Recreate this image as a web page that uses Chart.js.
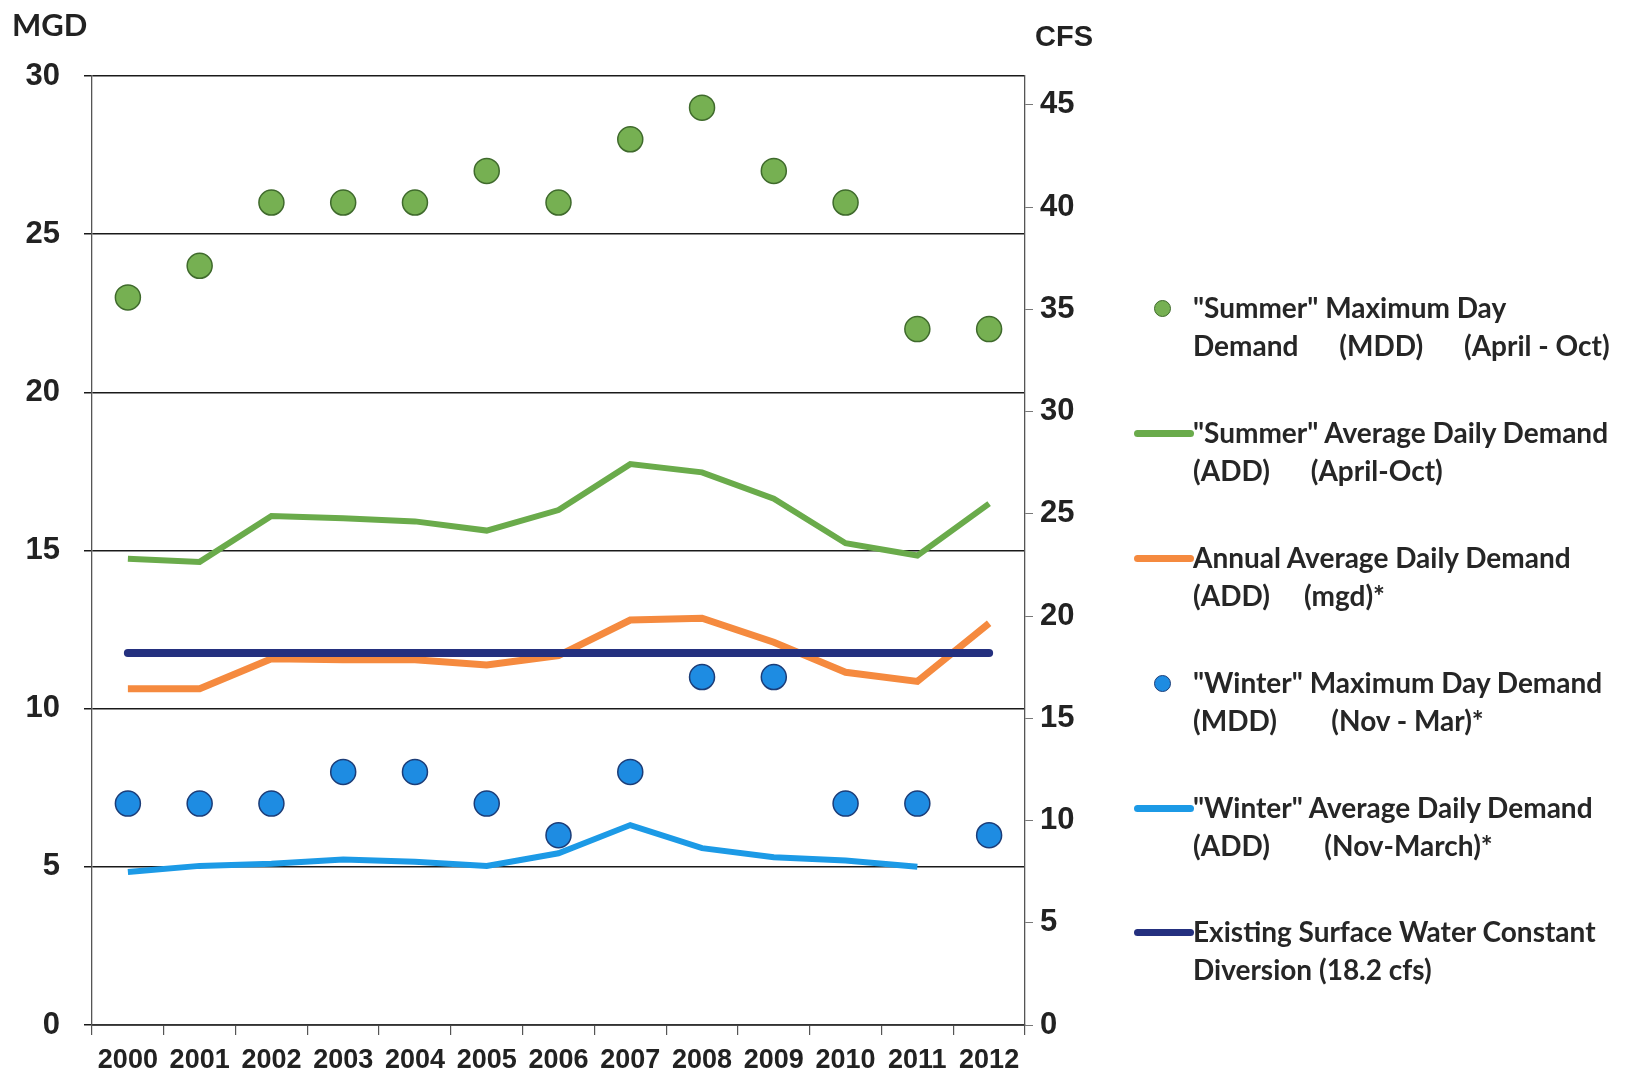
<!DOCTYPE html>
<html>
<head>
<meta charset="utf-8">
<script src="https://cdn.jsdelivr.net/npm/chart.js@4/dist/chart.umd.min.js"></script>
<style>
  html, body { margin: 0; padding: 0; background: #ffffff; }
  #wrap { position: relative; width: 1631px; height: 1075px; }
  #c { position: absolute; left: 0; top: 0; }
  .unit { position: absolute; color: #222; font-weight: bold; line-height: 1; }
  #mgd { left: 12px; top: 9px; font-family: Lato, "Open Sans", sans-serif; font-size: 31px; }
  #cfs { left: 1035px; top: 22px; font-family: "Liberation Sans", Arial, sans-serif; font-size: 29px; }
  #legend { position: absolute; left: 1130px; top: 289px; width: 500px; }
  .item { position: absolute; left: 0; }
  .mark { position: absolute; }
  .txt { position: absolute; left: 63px; white-space: pre; font-family: Lato, "Open Sans", sans-serif;
         font-weight: bold; font-size: 28px; line-height: 37.5px; color: #262626; }
</style>
</head>
<body>
<div id="wrap">
  <canvas id="c" width="1631" height="1075"></canvas>
  <div class="unit" id="mgd">MGD</div>
  <div class="unit" id="cfs">CFS</div>
  <div id="legend"></div>
</div>
<script>
// Years on the category axis
const years = ['2000','2001','2002','2003','2004','2005','2006','2007','2008','2009','2010','2011','2012'];

// Demands in million gallons per day (MGD)
const summerMDD = [23, 24, 26, 26, 26, 27, 26, 28, 29, 27, 26, 22, 22];
const summerADD = [14.74, 14.64, 16.09, 16.02, 15.92, 15.63, 16.28, 17.73, 17.47, 16.64, 15.23, 14.84, 16.48];
const annualADD = [10.63, 10.63, 11.58, 11.55, 11.55, 11.38, 11.68, 12.80, 12.86, 12.10, 11.15, 10.86, 12.70];
const winterMDD = [7, 7, 7, 8, 8, 7, 6, 8, 11, 11, 7, 7, 6];
const winterADD = [4.84, 5.03, 5.10, 5.23, 5.16, 5.03, 5.43, 6.32, 5.59, 5.30, 5.20, 5.00, null];

// Constant surface water diversion, given in cubic feet per second
const diversionCFS = 18.2;
const CFS_PER_MGD = 1.5472;
const diversionMGD = years.map(() => diversionCFS / CFS_PER_MGD);

// Axis ranges
const mgdMax = 30;
const mgdStep = 5;
const cfsStep = 5;

// Legend text
const legendText = [
  '"Summer" Maximum Day\nDemand      (MDD)      (April - Oct)',
  '"Summer" Average Daily Demand\n(ADD)      (April-Oct)',
  'Annual Average Daily Demand\n(ADD)     (mgd)*',
  '"Winter" Maximum Day Demand\n(MDD)        (Nov - Mar)*',
  '"Winter" Average Daily Demand\n(ADD)        (Nov-March)*',
  'Existing Surface Water Constant\nDiversion (18.2 cfs)'
];

const GREEN_DOT = '#76b052', GREEN_DOT_EDGE = '#3f6a2c';
const GREEN_LINE = '#6aab4b';
const ORANGE = '#f58a3f';
const NAVY = '#24307f';
const BLUE_DOT = '#1e8ce2', BLUE_DOT_EDGE = '#1c3d78';
const LIGHT_BLUE = '#1c9ae6';

const datasets = [
  { label: legendText[0], data: summerMDD, showLine: false, pointRadius: 12.5, pointHoverRadius: 12.5,
    backgroundColor: GREEN_DOT, borderColor: GREEN_DOT_EDGE, pointBorderWidth: 1.5, order: 1, kind: 'dot' },
  { label: legendText[1], data: summerADD, borderColor: GREEN_LINE, backgroundColor: GREEN_LINE,
    borderWidth: 6, pointRadius: 0, tension: 0, order: 4, kind: 'line' },
  { label: legendText[2], data: annualADD, borderColor: ORANGE, backgroundColor: ORANGE,
    borderWidth: 7, pointRadius: 0, tension: 0, order: 3, kind: 'line' },
  { label: legendText[3], data: winterMDD, showLine: false, pointRadius: 12.5, pointHoverRadius: 12.5,
    backgroundColor: BLUE_DOT, borderColor: BLUE_DOT_EDGE, pointBorderWidth: 1.5, order: 0, kind: 'dot' },
  { label: legendText[4], data: winterADD, borderColor: LIGHT_BLUE, backgroundColor: LIGHT_BLUE,
    borderWidth: 6, pointRadius: 0, tension: 0, order: 5, kind: 'line' },
  { label: legendText[5], data: diversionMGD, borderColor: NAVY, backgroundColor: NAVY,
    borderWidth: 8, pointRadius: 0, tension: 0, borderCapStyle: 'round', order: 2, kind: 'line' }
];

const narrow = '"Liberation Sans Narrow", "Arial Narrow", "Liberation Sans", Arial, sans-serif';
const tickFont = { family: narrow, weight: 'bold', size: 31 };

const chart = new Chart(document.getElementById('c'), {
  type: 'line',
  data: { labels: years, datasets: datasets },
  options: {
    responsive: false,
    animation: false,
    layout: { padding: { top: 76, left: 0, right: 0, bottom: 0 } },
    plugins: { legend: { display: false }, tooltip: { enabled: false } },
    scales: {
      x: {
        type: 'category',
        offset: true,
        grid: { offset: true, drawOnChartArea: false, drawTicks: true, tickLength: 10, color: '#555', lineWidth: 1.2 },
        border: { color: '#333', width: 1.8 },
        ticks: { font: { family: narrow, weight: 'bold', size: 27 },
                 color: '#222', padding: 9, maxRotation: 0, autoSkip: false },
        afterFit: s => { s.height = 50; }
      },
      y: {
        position: 'left',
        min: 0, max: mgdMax,
        ticks: { stepSize: mgdStep, font: tickFont, color: '#222', padding: 24 },
        grid: { color: '#1a1a1a', lineWidth: 1.5, tickLength: 8 },
        border: { color: '#555', width: 1.3 },
        afterFit: s => { s.width = 92; }
      },
      y2: {
        position: 'right',
        min: 0, max: mgdMax * CFS_PER_MGD,
        ticks: { stepSize: cfsStep, includeBounds: false, font: tickFont, color: '#222', padding: 7 },
        grid: { drawOnChartArea: false, tickLength: 8, color: '#777' },
        border: { color: '#555', width: 1.3 },
        afterFit: s => { s.width = 1631 - 1025; }
      }
    }
  }
});

// Legend built from the chart's datasets
const legend = document.getElementById('legend');
const rowTop = [0, 125, 250, 375, 500, 624];
chart.data.datasets.forEach((ds, i) => {
  const item = document.createElement('div');
  item.className = 'item';
  item.style.top = rowTop[i] + 'px';
  const mark = document.createElement('div');
  mark.className = 'mark';
  if (ds.kind === 'dot') {
    Object.assign(mark.style, { left: '24px', top: '11px', width: '17px', height: '17px', borderRadius: '50%',
      background: ds.backgroundColor, border: '1px solid ' + ds.borderColor, boxSizing: 'border-box' });
  } else {
    Object.assign(mark.style, { left: '4px', top: '16px', width: '60px', height: '7px', borderRadius: '3.5px',
      background: ds.borderColor });
  }
  const txt = document.createElement('div');
  txt.className = 'txt';
  txt.textContent = ds.label;
  item.appendChild(mark);
  item.appendChild(txt);
  legend.appendChild(item);
});
</script>
</body>
</html>
